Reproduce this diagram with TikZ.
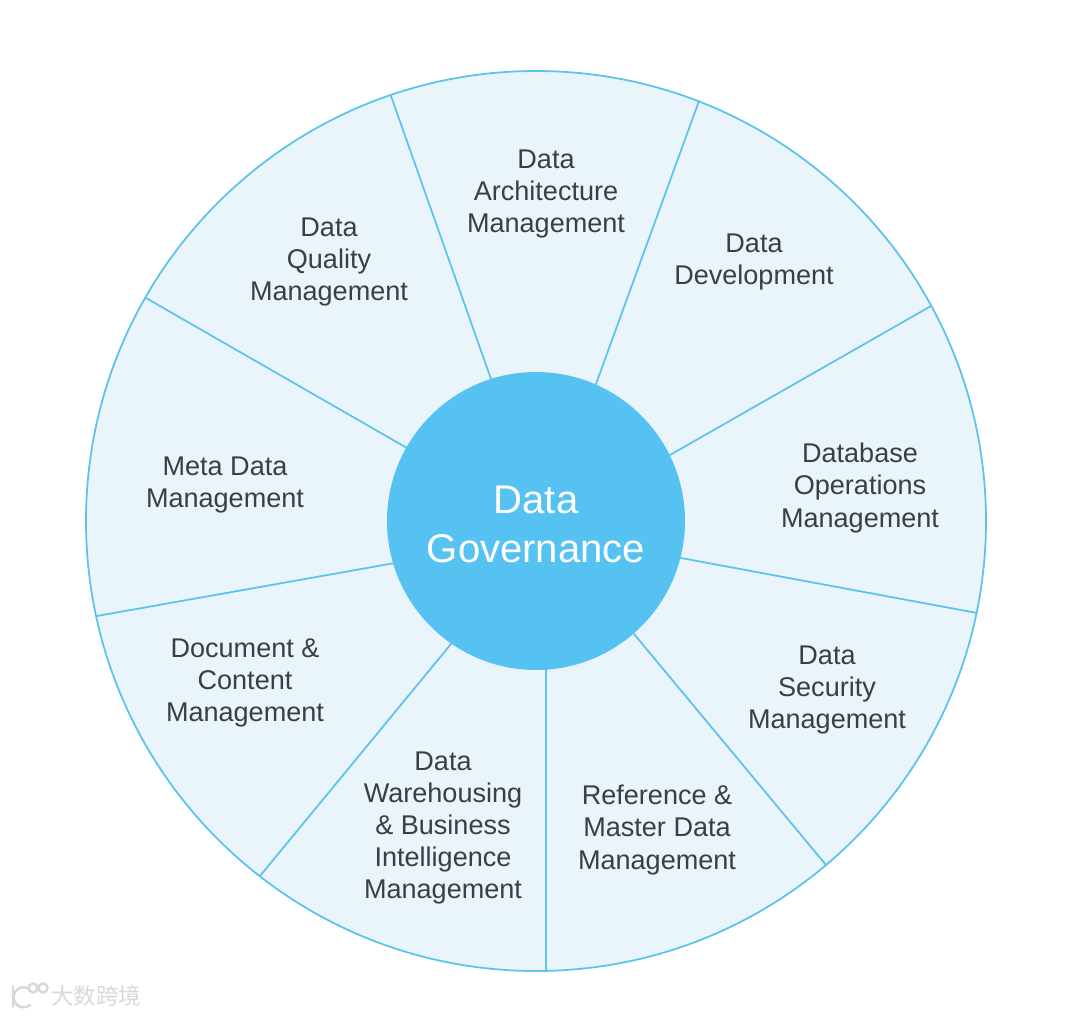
\documentclass[tikz,border=0pt]{standalone}
\usepackage{fontspec}
\setmainfont{Liberation Sans}
\newfontfamily\cjkfont{Noto Sans CJK SC}
\definecolor{rimblue}{HTML}{5CC3EC}
\definecolor{paleblue}{HTML}{E9F5FB}
\definecolor{hubblue}{HTML}{55C2F2}
\definecolor{labelgrey}{HTML}{3A3F44}
\definecolor{markgrey}{HTML}{D8D8D8}
\tikzset{
  area/.style={align=center,text=labelgrey,font=\fontsize{15.4}{18.3}\selectfont},
  spoke/.style={draw=rimblue,line width=1pt},
  logostroke/.style={draw=markgrey,line width=1.4pt},
}
\begin{document}
\begin{tikzpicture}[line cap=round,line join=round,x=0.02cm,y=-0.02cm]
        \useasboundingbox (0,0) rectangle (1080,1016);
        \fill [white] (0,0) rectangle (1080,1016);
        \draw [spoke,fill=paleblue] (536,521) circle [radius=450];

        % spoke ends, outer rim then hub
        \coordinate (o1) at (391,96);   \coordinate (i1) at (491,379);
        \coordinate (o2) at (699,101);  \coordinate (i2) at (596,384);
        \coordinate (o3) at (931,306);  \coordinate (i3) at (670,455);
        \coordinate (o4) at (977,613);  \coordinate (i4) at (681,558);
        \coordinate (o5) at (826,865);  \coordinate (i5) at (634,634);
        \coordinate (o6) at (546,971);  \coordinate (i6) at (546,669);
        \coordinate (o7) at (260,876);  \coordinate (i7) at (451,644);
        \coordinate (o8) at (97,616);   \coordinate (i8) at (395,563);
        \coordinate (o9) at (146,298);  \coordinate (i9) at (407,448);
        \foreach \k in {1,...,9}
          \draw [spoke] (o\k)-- (i\k);

        \node (hub) [circle,fill=hubblue,minimum size=298*0.02cm,inner sep=0pt] at (536,521) {};
        \node (title) [align=center,text=white,font=\fontsize{22.8}{27.8}\selectfont] at (536,524) {Data\\Governance};

        \node (arch) [area] at (546,194) {Data\\Architecture\\Management};
        \node (dev) [area] at (754,262) {Data\\Development};
        \node (ops) [area] at (860,488) {Database\\Operations\\Management};
        \node (sec) [area] at (827,690) {Data\\Security\\Management};
        \node (ref) [area] at (657,830) {Reference \&\\Master Data\\Management};
        \node (bi) [area] at (443,828) {Data\\Warehousing\\\& Business\\Intelligence\\Management};
        \node (doc) [area] at (245,683) {Document \&\\Content\\Management};
        \node (meta) [area] at (225,485) {Meta Data\\Management};
        \node (qual) [area] at (329,262) {Data\\Quality\\Management};

        % logo of the corner mark
        \draw [logostroke] (13,986)-- (13,1007);
        \draw [logostroke] (30,1005) arc [start angle=50,end angle=300,radius=10];
        \draw [logostroke] (33,988) circle [radius=4.5];
        \draw [logostroke] (43,988) circle [radius=4.5];
        \node (mark) [text=markgrey,font=\cjkfont\fontsize{12.8}{12.8}\selectfont,anchor=west,inner sep=0pt] at (51,996) {大数跨境};
      \end{tikzpicture}
\end{document}
